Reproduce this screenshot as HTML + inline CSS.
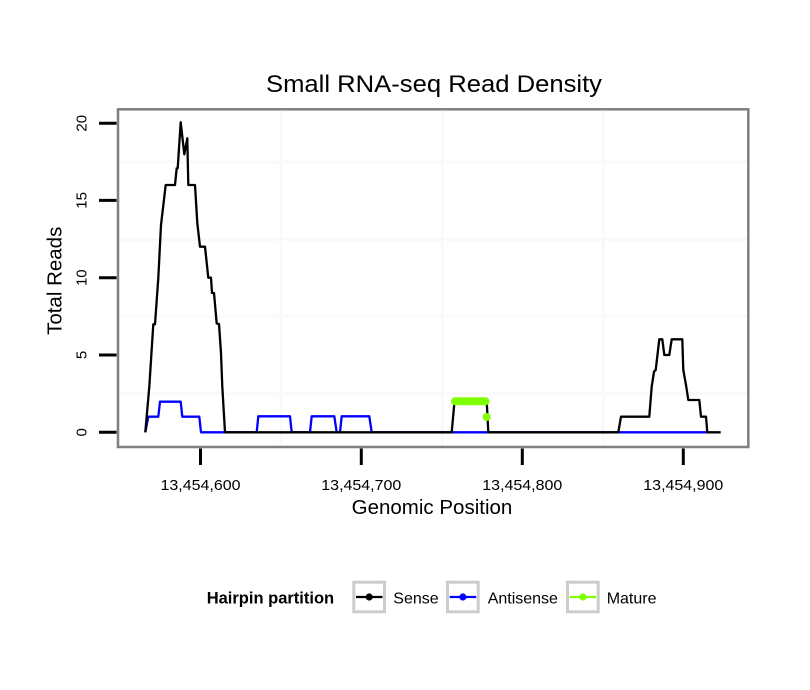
<!DOCTYPE html>
<html>
<head>
<meta charset="utf-8">
<style>
  html, body { margin: 0; padding: 0; background: #ffffff; }
  svg { display: block; }
  text { font-family: "Liberation Sans", "DejaVu Sans", sans-serif; fill: #000; }
</style>
</head>
<body>
<svg width="810" height="690" viewBox="0 0 810 690" xmlns="http://www.w3.org/2000/svg">
  <rect x="0" y="0" width="810" height="690" fill="#ffffff"/>

  <!-- Title -->
  <text x="434" y="92" font-size="24" text-anchor="middle" textLength="336" lengthAdjust="spacingAndGlyphs">Small RNA-seq Read Density</text>

  <!-- Panel background -->
  <rect x="118" y="109.3" width="630.3" height="337.7" fill="#ffffff"/>

  <!-- Minor gridlines -->
  <g stroke="#f9f9f9" stroke-width="3">
    <line x1="281" y1="110.5" x2="281" y2="446"/>
    <line x1="442.3" y1="110.5" x2="442.3" y2="446"/>
    <line x1="603.3" y1="110.5" x2="603.3" y2="446"/>
    <line x1="119" y1="161.9" x2="747" y2="161.9"/>
    <line x1="119" y1="239.2" x2="747" y2="239.2"/>
    <line x1="119" y1="316.4" x2="747" y2="316.4"/>
    <line x1="119" y1="393.7" x2="747" y2="393.7"/>
  </g>

  <!-- Antisense (blue) -->
  <path fill="none" stroke="#0000ff" stroke-width="2.3" stroke-linejoin="round"
    d="M145.3,432.3 L148.3,416.7 L158.3,416.7 L160,401.7 L180.7,401.7 L182.3,416.7 L199.3,416.7 L201,432.3
       L256.7,432.3 L258.3,416.3 L290,416.3 L291.7,432.3
       L310,432.3 L311.7,416.3 L334.3,416.3 L336.7,432.3
       L340,432.3 L341.7,416.3 L369.3,416.3 L371.7,432.3
       L706.7,432.3"/>

  <!-- Sense (black) -->
  <path fill="none" stroke="#000000" stroke-width="2.3" stroke-linejoin="round"
    d="M145.3,432.3 L149.3,386.7 L153.3,324.3 L155,324.3 L158.3,278 L161,225 L165.7,185 L175,185 L176.7,168.3 L177.7,168.3
       L180.7,122.3 L184.3,154.3 L187.3,138.3 L188.3,185 L195,185 L197.3,223 L200,246.7 L205,246.7 L208.3,277.7 L211,277.7
       L212,293 L214,293 L216.7,323.5 L219,324 L221,353 L222.3,386.7 L225,432.3
       L451.7,432.3 L454.5,401.3 L486.7,401.3 L488.3,432.3
       L618.3,432.3 L621,416.7 L649.3,416.7 L651.7,386.7 L654,371.7 L655.7,370 L659.3,339.3 L662.3,339.3 L664.3,355
       L669.3,355 L671.7,339.3 L682.3,339.3 L683.3,370 L686,385 L688.3,400 L699.3,400 L701,416.7 L706,416.7 L707.3,432.3
       L720.7,432.3"/>

  <!-- Mature (green) -->
  <line x1="455" y1="401.3" x2="485.5" y2="401.3" stroke="#7fff00" stroke-width="8" stroke-linecap="round"/>
  <circle cx="486.7" cy="417" r="4" fill="#7fff00"/>

  <!-- Panel border -->
  <rect x="118" y="109.3" width="630.3" height="337.7" fill="none" stroke="#7f7f7f" stroke-width="2.5"/>

  <!-- Y ticks -->
  <g stroke="#000" stroke-width="3">
    <line x1="99" y1="432.3" x2="116.5" y2="432.3"/>
    <line x1="99" y1="355" x2="116.5" y2="355"/>
    <line x1="99" y1="277.7" x2="116.5" y2="277.7"/>
    <line x1="99" y1="200.4" x2="116.5" y2="200.4"/>
    <line x1="99" y1="123.3" x2="116.5" y2="123.3"/>
  </g>
  <g font-size="15" text-anchor="middle">
    <text transform="translate(86.7,432.3) rotate(-90)">0</text>
    <text transform="translate(86.7,355) rotate(-90)">5</text>
    <text transform="translate(86.7,277.7) rotate(-90)">10</text>
    <text transform="translate(86.7,200.4) rotate(-90)">15</text>
    <text transform="translate(86.7,123.3) rotate(-90)">20</text>
  </g>

  <!-- X ticks -->
  <g stroke="#000" stroke-width="3">
    <line x1="200.5" y1="448.5" x2="200.5" y2="465"/>
    <line x1="361.3" y1="448.5" x2="361.3" y2="465"/>
    <line x1="522.3" y1="448.5" x2="522.3" y2="465"/>
    <line x1="683.3" y1="448.5" x2="683.3" y2="465"/>
  </g>
  <g font-size="15" text-anchor="middle">
    <text x="200.5" y="490" textLength="80" lengthAdjust="spacingAndGlyphs">13,454,600</text>
    <text x="361.3" y="490" textLength="80" lengthAdjust="spacingAndGlyphs">13,454,700</text>
    <text x="522.3" y="490" textLength="80" lengthAdjust="spacingAndGlyphs">13,454,800</text>
    <text x="683.3" y="490" textLength="80" lengthAdjust="spacingAndGlyphs">13,454,900</text>
  </g>

  <!-- Axis titles -->
  <text x="432" y="514" font-size="20.5" text-anchor="middle">Genomic Position</text>
  <text transform="translate(61.7,280.8) rotate(-90)" font-size="20.5" text-anchor="middle">Total Reads</text>

  <!-- Legend -->
  <text x="206.7" y="603.3" font-size="16.5" font-weight="bold">Hairpin partition</text>

  <rect x="353.8" y="582.2" width="30.7" height="29.6" fill="#ffffff" stroke="#cccccc" stroke-width="3"/>
  <line x1="356" y1="597" x2="382.5" y2="597" stroke="#000000" stroke-width="2.3"/>
  <circle cx="369.2" cy="597" r="3.6" fill="#000000"/>
  <text x="393.3" y="603.3" font-size="16">Sense</text>

  <rect x="447.5" y="582.2" width="30.7" height="29.6" fill="#ffffff" stroke="#cccccc" stroke-width="3"/>
  <line x1="449.7" y1="597" x2="476.2" y2="597" stroke="#0000ff" stroke-width="2.3"/>
  <circle cx="462.9" cy="597" r="3.6" fill="#0000ff"/>
  <text x="487.7" y="603.3" font-size="16">Antisense</text>

  <rect x="567.5" y="582.2" width="30.7" height="29.6" fill="#ffffff" stroke="#cccccc" stroke-width="3"/>
  <line x1="569.7" y1="597" x2="596.2" y2="597" stroke="#7fff00" stroke-width="2.3"/>
  <circle cx="582.9" cy="597" r="3.6" fill="#7fff00"/>
  <text x="606.7" y="603.3" font-size="16">Mature</text>
</svg>
</body>
</html>
